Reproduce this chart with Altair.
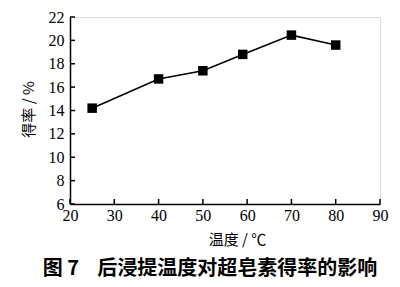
import altair as alt
import pandas as pd

temps = [25, 40, 50, 59, 70, 80]
yields = [14.2, 16.7, 17.4, 18.8, 20.45, 19.6]
x_ticks = [20, 30, 40, 50, 60, 70, 80, 90]
y_ticks = [6, 8, 10, 12, 14, 16, 18, 20, 22]

W, H = 310, 187
df = pd.DataFrame({"t": temps, "y": yields})
xt = pd.DataFrame({"t": x_ticks})
yt = pd.DataFrame({"y": y_ticks})

serif = "Liberation Serif, serif"
xs = alt.Scale(domain=[20, 90], nice=False, zero=False)
ys = alt.Scale(domain=[6, 22], nice=False, zero=False)

xaxis = alt.Axis(values=x_ticks, title="温度 / ℃", grid=False, ticks=False,
                 labelFont=serif, labelFontSize=16, labelColor="black", labelPadding=3,
                 labelOverlap=False, labelFlush=False,
                 domainColor="black", domainWidth=1.5,
                 titleFont="Noto Sans CJK SC", titleFontSize=15, titleFontWeight="normal",
                 titleColor="black", titlePadding=9, titleX=167)
yaxis = alt.Axis(values=y_ticks, title="得率 / %", grid=False, ticks=False,
                 labelFont=serif, labelFontSize=16, labelColor="black", labelPadding=6,
                 labelOverlap=False, labelFlush=False,
                 domainColor="black", domainWidth=1.5,
                 titleFont="Noto Sans CJK SC", titleFontSize=15, titleFontWeight="normal",
                 titleColor="black", titlePadding=12, titleY=92)

X = alt.X("t:Q", scale=xs, axis=xaxis)
Y = alt.Y("y:Q", scale=ys, axis=yaxis)

base = alt.Chart(df)
line = base.mark_line(color="black", strokeWidth=1.6).encode(x=X, y=Y)
pts = base.mark_square(color="black", size=90, opacity=1).encode(x=X, y=Y)
xtick = alt.Chart(xt).mark_rule(color="black", strokeWidth=1.5).encode(
    x=X, y=alt.value(H), y2=alt.value(H - 5)
)
ytick = alt.Chart(yt).mark_rule(color="black", strokeWidth=1.5).encode(
    y=Y, x=alt.value(0), x2=alt.value(5)
)

chart = alt.layer(line, xtick, ytick, pts).properties(
    width=W, height=H,
    autosize=alt.AutoSizeParams(type="none"),
    padding={"left": 70, "top": 17, "right": 20, "bottom": 83},
    title=alt.TitleParams(
        "图\u00a07\u00a0\u00a0\u00a0\u00a0后浸提温度对超皂素得率的影响", orient="bottom", anchor="middle",
        font="Noto Sans CJK SC", fontSize=20, fontWeight="bold", color="black",
        offset=12, dx=-15,
    ),
).configure_view(stroke=None).configure(background="white")

chart.save("out.html", embed_options={"renderer": "svg", "actions": False})
